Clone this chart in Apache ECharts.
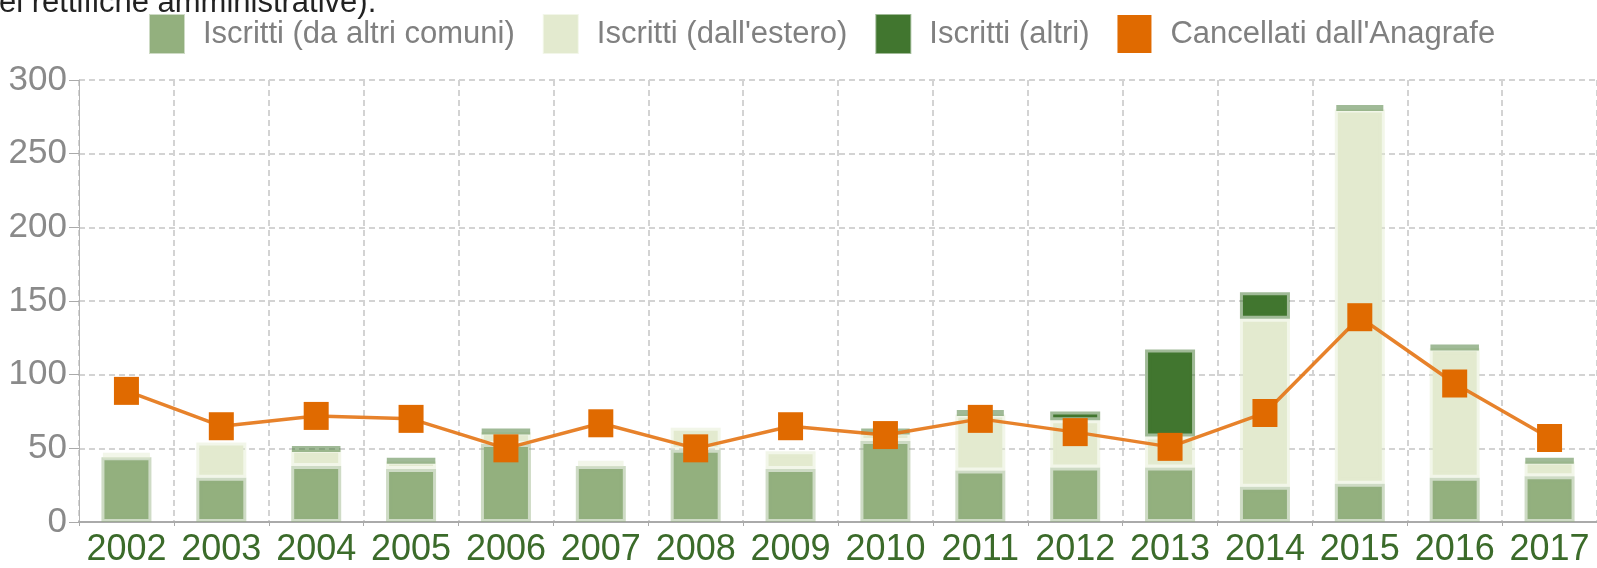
<!DOCTYPE html>
<html>
<head>
<meta charset="utf-8">
<script src="https://cdn.jsdelivr.net/npm/echarts@6/dist/echarts.min.js"></script>
<style>
  html, body { margin: 0; padding: 0; background: #fff; }
  #chart { width: 1597px; height: 568px; }
</style>
</head>
<body>
<div id="chart"></div>
<script>
const years = ['2002','2003','2004','2005','2006','2007','2008','2009','2010','2011','2012','2013','2014','2015','2016','2017'];
const iscrittiComuni = [44, 30, 38, 36, 53, 38, 49, 36, 55, 35, 37, 37, 24, 26, 30, 31];
const iscrittiEstero = [2, 24, 11, 5, 8, 3, 15, 12, 6, 38, 32, 21, 114, 254, 88, 10];
const iscrittiAltri = [0, 0, 1, 1, 1, 0, 0, 0, 1, 2, 6, 59, 18, 2, 1, 1];
const cancellati = [89, 65, 72, 70, 50, 67, 50, 65, 59, 70, 61, 51, 74, 139, 94, 57];
const yTicks = [0, 50, 100, 150, 200, 250, 300];

const sans = "'Liberation Sans', Arial, sans-serif";

const chart = echarts.init(document.getElementById('chart'));

// stacked bar with a soft halo around each segment
// (empty segments are skipped so no stray border is drawn)
function barSeries(name, data, color, halo) {
  return {
    name: name,
    type: 'bar',
    stack: 'iscritti',
    barWidth: 50,
    data: data.map(v => (v === 0 ? null : v)),
    itemStyle: { color: color, borderColor: halo, borderWidth: 6 },
    emphasis: { disabled: true }
  };
}

chart.setOption({
  animation: false,
  backgroundColor: '#fff',
  graphic: [{
    type: 'text',
    left: -1,
    top: -12,
    style: {
      text: "el rettifiche amministrative).",
      font: '31px ' + sans,
      fill: '#222'
    }
  }],
  legend: {
    left: 149,
    top: 14,
    padding: 0,
    itemWidth: 34,
    itemHeight: 38,
    itemGap: 28,
    icon: 'rect',
    textStyle: {
      fontFamily: sans,
      fontSize: 31,
      color: '#808080',
      padding: [0, 0, 0, 14]
    },
    data: ['Iscritti (da altri comuni)', "Iscritti (dall'estero)", 'Iscritti (altri)', "Cancellati dall'Anagrafe"]
  },
  grid: {
    left: 79,
    right: -7,
    top: 80,
    bottom: 40,
    containLabel: false
  },
  xAxis: {
    type: 'category',
    data: years,
    boundaryGap: true,
    axisLine: { lineStyle: { color: '#aaa', width: 2 } },
    axisTick: { show: true, length: 4, lineStyle: { color: '#aaa' } },
    axisLabel: {
      interval: 0,
      margin: 10,
      fontFamily: sans,
      fontSize: 36,
      color: '#3b6b2a'
    },
    splitLine: {
      show: true,
      lineStyle: { color: '#d3d3d3', width: 2, type: [6, 4] }
    }
  },
  yAxis: {
    type: 'value',
    min: yTicks[0],
    max: yTicks[yTicks.length - 1],
    interval: 50,
    axisLine: { show: true, lineStyle: { color: '#b5b5b5', width: 1 } },
    axisTick: { show: true, length: 10, lineStyle: { color: '#aaa' } },
    axisLabel: {
      margin: 12,
      fontFamily: sans,
      fontSize: 35,
      color: '#8a8a8a'
    },
    splitLine: {
      show: true,
      lineStyle: { color: '#d3d3d3', width: 2, type: [6, 4] }
    }
  },
  series: [
    barSeries('Iscritti (da altri comuni)', iscrittiComuni, '#93b07e', 'rgba(147,176,126,0.45)'),
    barSeries("Iscritti (dall'estero)", iscrittiEstero, '#e3eacf', 'rgba(227,234,207,0.45)'),
    barSeries('Iscritti (altri)', iscrittiAltri, '#41762f', 'rgba(65,118,47,0.5)'),
    {
      name: "Cancellati dall'Anagrafe",
      type: 'line',
      data: cancellati,
      symbol: 'rect',
      symbolSize: [25, 28],
      itemStyle: { color: '#e06a00' },
      lineStyle: { color: '#e47414', width: 3.5, opacity: 0.9 },
      emphasis: { disabled: true },
      z: 3
    }
  ]
});
</script>
</body>
</html>
